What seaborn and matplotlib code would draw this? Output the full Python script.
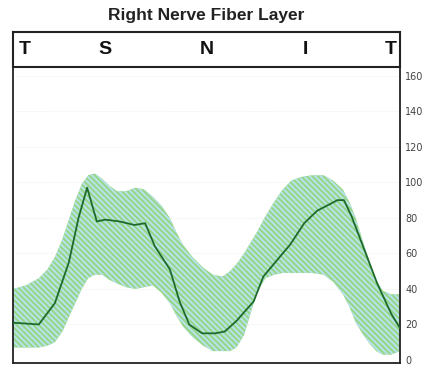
import numpy as np
import pandas as pd
import matplotlib
matplotlib.use("Agg")
import matplotlib.pyplot as plt
import seaborn as sns

# TSNIT profile (position in degrees, thickness in microns)
pos_mean = [0, 24, 39, 52, 61, 69, 78, 86, 99, 113, 123, 132, 146, 155, 164, 176, 188,
            197, 208, 224, 233, 251, 258, 271, 283, 302, 308, 315, 327, 339, 352, 360]
mean_val = [21, 20, 32, 55, 80, 97, 78, 79, 78, 76, 77, 64, 51, 33, 20, 15, 15,
            16, 22, 33, 47, 60, 65, 77, 84, 90, 90, 81, 62, 43, 26, 18]

# normal range band
pos_band = [0, 12, 24, 32, 39, 46, 52, 58, 64, 70, 76, 83, 90, 97, 105, 114, 122, 130,
            138, 146, 152, 158, 167, 177, 186, 195, 202, 208, 215, 221, 227, 235, 243,
            251, 259, 268, 278, 289, 298, 307, 313, 319, 325, 332, 338, 344, 352, 360]
upper_val = [40, 42, 46, 51, 58, 68, 79, 90, 99, 104, 105, 102, 98, 95, 95, 97, 96, 92,
             87, 80, 72, 65, 58, 52, 48, 47, 50, 54, 60, 66, 72, 81, 89,
             96, 101, 103, 104, 104, 101, 96, 89, 80, 68, 55, 45, 39, 37, 37]
lower_val = [7, 7, 7, 8, 10, 16, 24, 32, 40, 46, 48, 48, 45, 43, 41, 40, 41, 42,
             38, 32, 25, 19, 13, 8, 5, 5, 5, 7, 14, 26, 38, 46, 48,
             49, 49, 49, 49, 48, 44, 37, 30, 21, 15, 9, 5, 3, 3, 5]

y_ticks = [0, 20, 40, 60, 80, 100, 120, 140, 160]
sector_labels = ["T", "S", "N", "I", "T"]
sector_pos = [11, 85.5, 180.5, 272.5, 351.5]

df = pd.DataFrame({"pos": pos_mean, "thickness": mean_val})

sns.set_style("white")
plt.rcParams["hatch.linewidth"] = 1.4

fig = plt.figure(figsize=(4.27, 3.66), dpi=100)
ax = fig.add_axes([0.0304, 0.0082, 0.906, 0.809])
hdr = fig.add_axes([0.0304, 0.817, 0.906, 0.0956])

# faint grid
for t in y_ticks[1:]:
    ax.axhline(t, color="#ececec", lw=0.7, ls=":", zorder=0)

# normal range band, hatched green/blue
ax.fill_between(pos_band, lower_val, upper_val, facecolor="#96d786", edgecolor="#b8e2ec",
                hatch="\\\\\\\\\\\\", linewidth=0, zorder=1)

sns.lineplot(data=df, x="pos", y="thickness", color="#1d6b2b", lw=1.3, ax=ax, zorder=3)

ax.set_xlim(0, 360)
ax.set_ylim(-1.7, 165)
ax.set_xticks([])
ax.set_xlabel("")
ax.set_ylabel("")
ax.yaxis.tick_right()
ax.set_yticks(y_ticks)
ax.set_yticklabels([str(t) for t in y_ticks], fontsize=7, color="#444444")
ax.tick_params(axis="y", length=0, pad=4)
for s in ax.spines.values():
    s.set_color("#222222")
    s.set_linewidth(1.3)

# sector header box
hdr.set_xlim(0, 360)
hdr.set_ylim(0, 1)
hdr.set_xticks([])
hdr.set_yticks([])
for s in hdr.spines.values():
    s.set_color("#222222")
    s.set_linewidth(1.5)
for p, lab in zip(sector_pos, sector_labels):
    hdr.text(p, 0.5, lab, ha="center", va="center", fontsize=14, fontweight="bold",
             family="Liberation Sans", color="#111111")

fig.text(0.482, 0.959, "Right Nerve Fiber Layer", ha="center", va="center",
         fontsize=12.5, fontweight="bold", family="Liberation Sans", color="#222222")

fig.savefig("out.png", dpi=100)
